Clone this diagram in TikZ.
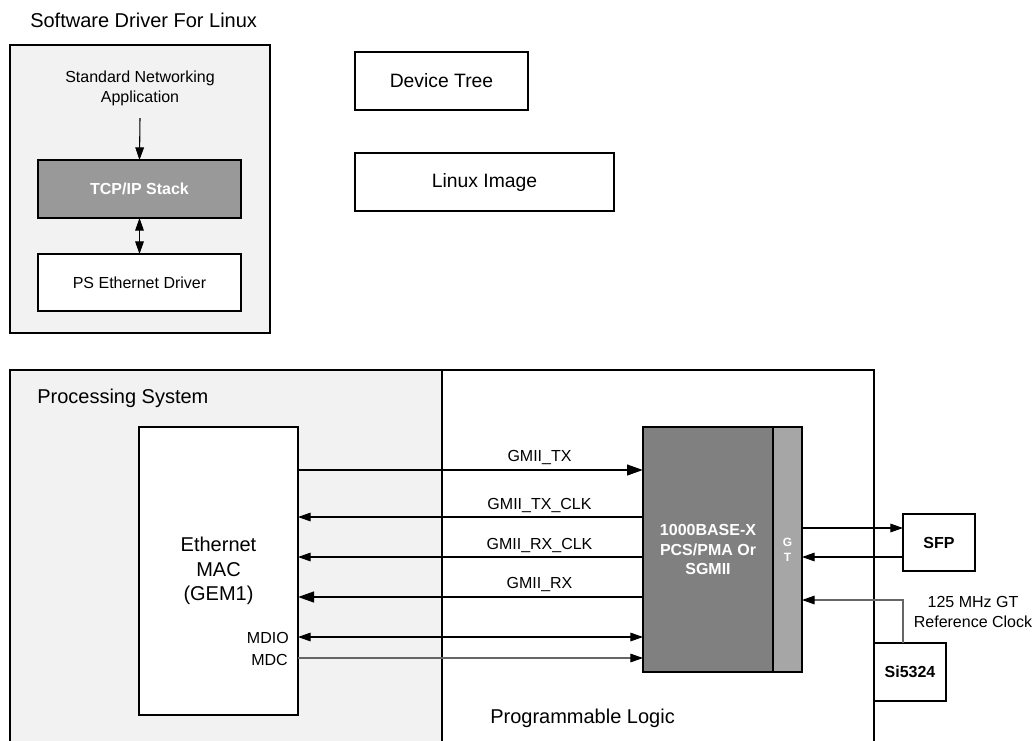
\documentclass[tikz,border=0pt]{standalone}
\usepackage{fontspec}
\setmainfont{Liberation Sans}
\usetikzlibrary{arrows.meta}
\definecolor{psgray}{HTML}{F2F2F2}
\definecolor{tcpgray}{HTML}{999999}
\definecolor{pcsgray}{HTML}{808080}
\definecolor{gtgray}{HTML}{A6A6A6}
\definecolor{wiregray}{HTML}{666666}
\begin{document}
\begin{tikzpicture}[x=0.75pt,y=-0.75pt,
  box/.style={draw, line width=1.4pt, inner sep=0pt, outer sep=0pt},
  frameline/.style={line width=1.4pt},
  fa/.style={font=\fontsize{12}{15}\selectfont},
  fb/.style={font=\fontsize{14.5}{18}\selectfont},
  fc/.style={font=\fontsize{15}{18.4}\selectfont},
  fbold/.style={font=\fontsize{12}{14.5}\selectfont\bfseries},
  thinarr/.style={line width=0.8pt, -{Triangle[length=9.5pt,width=6.5pt]}},
  grayarr/.style={line width=0.8pt, draw=wiregray, -{Triangle[length=9.5pt,width=6.5pt,color=black]}},
  thinarrb/.style={line width=0.8pt, {Triangle[length=9.5pt,width=6.5pt]}-{Triangle[length=9.5pt,width=6.5pt]}},
  thickarr/.style={line width=1.6pt, -{Triangle[length=12pt,width=8pt]}},
  lbl/.style={font=\fontsize{12}{14.5}\selectfont, above, inner sep=3pt}
]
\useasboundingbox (0,0) rectangle (1034,740);

% ---------- Software driver ----------
\node[fc, anchor=base west, inner sep=0pt] (swtitle) at (30,27) {Software Driver For Linux};
\node[box, fill=psgray, minimum width=195pt, minimum height=216pt] (sw) at (140,189) {};
\node[fa, align=center] (app) at (140,88) {Standard Networking\\Application};
\node[box, fill=tcpgray, text=white, fbold, minimum width=152.25pt, minimum height=43.5pt] (tcp) at (139.5,189) {TCP/IP Stack};
\node[box, fill=white, fa, minimum width=152.25pt, minimum height=42.75pt] (psd) at (139.5,282.5) {PS Ethernet Driver};
\draw[thinarr] ([yshift=-6pt]app.south) -- (tcp.north);
\draw[thinarrb] (tcp.south) -- (psd.north);

\node[box, fill=white, fb, minimum width=129.75pt, minimum height=43.5pt] (dt) at (441.5,81) {Device Tree};
\node[box, fill=white, fb, minimum width=194.25pt, minimum height=43.5pt] (li) at (484.5,182) {Linux Image};

% ---------- Hardware frame ----------
\fill[psgray] (10,370) rectangle (442,745);
\draw[frameline] (10,745) -- (10,370) -- (874,370) -- (874,745);
\draw[frameline] (442,370) -- (442,745);
\node[fc, anchor=base west, inner sep=0pt] (pstitle) at (37,403) {Processing System};
\node[fc, anchor=base west, inner sep=0pt] (pltitle) at (490,723) {Programmable Logic};

\node[box, fill=white, fc, align=center, minimum width=119.25pt, minimum height=216pt] (mac) at (218.5,571) {Ethernet\\MAC\\(GEM1)};
\node[fa, anchor=east, inner sep=0pt] (mdio) at (289,638) {MDIO};
\node[fa, anchor=east, inner sep=0pt] (mdc) at (288,660) {MDC};

\node[box, fill=pcsgray, text=white, fbold, align=center, minimum width=97.5pt, minimum height=183.75pt] (pcs) at (708,549.5) {1000BASE-X\\PCS/PMA Or\\SGMII};
\node[box, fill=gtgray, text=white, align=center, font=\fontsize{9}{11.5}\selectfont\bfseries, minimum width=21.75pt, minimum height=183.75pt] (gt) at (787.5,549.5) {G\\T};

\node[box, fill=white, fbold, minimum width=54pt, minimum height=42.75pt] (sfp) at (939,542.5) {SFP};
\node[box, fill=white, fbold, minimum width=54pt, minimum height=43.5pt] (si) at (910,672) {Si5324};
\node[fa, align=center] (clk) at (973,612) {125 MHz GT\\Reference Clock};

% ---------- Connectors ----------
\draw[thickarr] (mac.east |- 0,470) -- node[lbl, pos=0.7] {GMII\_TX} (pcs.west |- 0,470);
\draw[thinarr] (pcs.west |- 0,517) -- node[lbl, pos=0.3] {GMII\_TX\_CLK} (mac.east |- 0,517);
\draw[thinarr] (pcs.west |- 0,557) -- node[lbl, pos=0.3] {GMII\_RX\_CLK} (mac.east |- 0,557);
\draw[thickarr] (pcs.west |- 0,597) -- node[lbl, pos=0.3] {GMII\_RX} (mac.east |- 0,597);
\draw[thinarrb] (mac.east |- 0,637) -- (pcs.west |- 0,637);
\draw[grayarr] (mac.east |- 0,658) -- (pcs.west |- 0,658);

\draw[thinarr] (gt.east |- 0,528) -- (sfp.west |- 0,528);
\draw[thinarr] (sfp.west |- 0,557) -- (gt.east |- 0,557);
\draw[grayarr] (903,0 |- si.north) -- (903,600) -- (gt.east |- 0,600);
\end{tikzpicture}
\end{document}
